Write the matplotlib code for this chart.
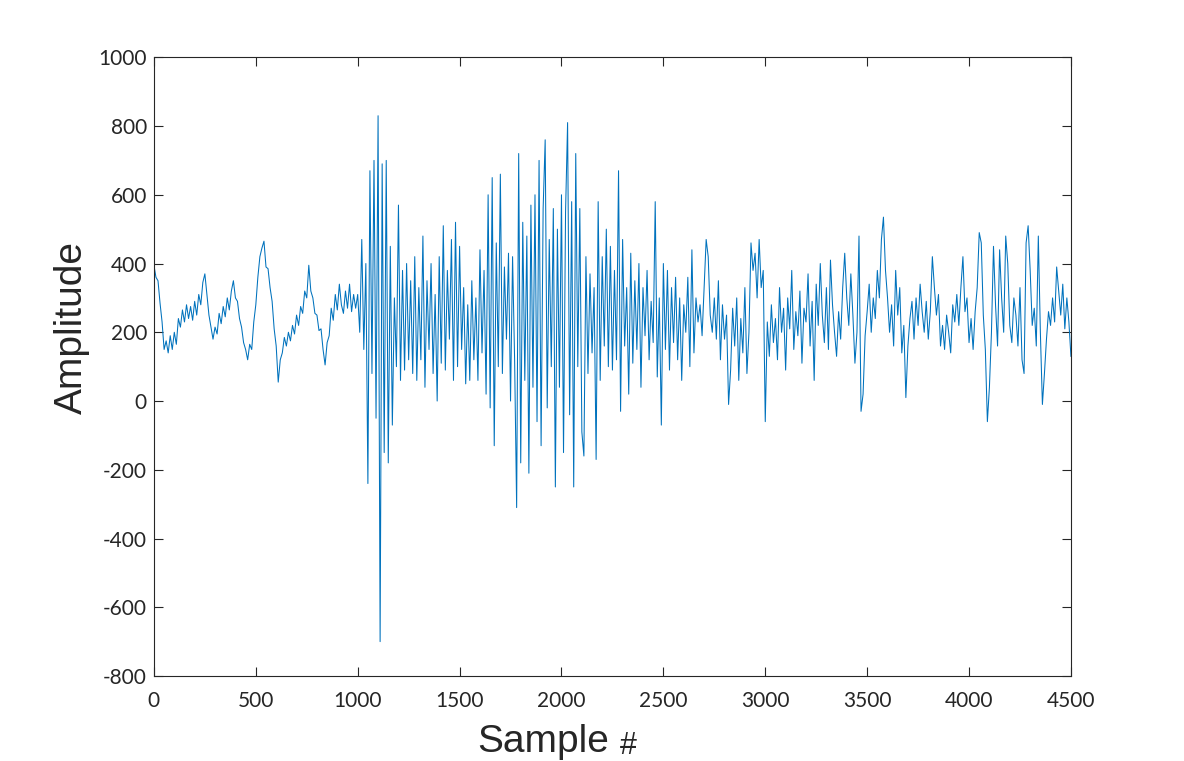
import numpy as np
import matplotlib
matplotlib.use("Agg")
import matplotlib.pyplot as plt

# samples are every 10 points
step = 10

block_0 = [395, 360, 350, 285, 230, 150, 175, 140, 190, 150,
           200, 165, 240, 215, 265, 230, 280, 240, 275, 235,
           290, 250, 310, 280, 345, 370, 310, 250, 215, 180,
           215, 195, 255, 225, 275, 245, 300, 265, 320, 350,
           300, 290, 240, 215, 170, 150, 120, 165, 150, 230]
block_500 = [280, 360, 420, 445, 465, 390, 385, 330, 290, 210,
             160, 55, 120, 140, 185, 160, 200, 175, 220, 195,
             250, 220, 275, 255, 320, 300, 395, 320, 300, 255,
             250, 205, 210, 150, 105, 170, 190, 270, 235, 310,
             265, 340, 280, 255, 320, 270, 340, 260, 310, 270]
block_1000 = [310, 200, 470, 150, 400, -240, 670, 80, 700, -50,
              830, -700, 690, -150, 700, -180, 450, -70, 300, 100,
              570, 60, 380, 90, 400, 120, 350, 80, 420, 60,
              330, 120, 480, 40, 350, 150, 400, 80, 310, 0,
              420, 110, 510, 90, 380, 180, 470, 60, 520, 100]
block_1500 = [450, 150, 330, 50, 280, 60, 350, 120, 300, 60,
              440, 140, 380, 20, 600, -20, 650, -130, 460, 100,
              660, 80, 390, 180, 430, 0, 420, 120, -310, 720,
              -180, 520, 60, 480, -210, 570, 40, 600, -60, 700,
              -130, 560, 760, -20, 470, 100, 560, -250, 500, 40]
block_2000 = [600, -150, 550, 810, -40, 580, -250, 720, 100, 560,
              -90, -160, 420, 80, 370, 140, 330, -170, 580, 60,
              420, 160, 500, 100, 450, 90, 380, 120, 670, -30,
              470, 160, 330, 20, 430, 110, 350, 150, 400, 40,
              330, 190, 380, 120, 290, 170, 580, 70, 300, -70]
block_2500 = [400, 150, 380, 90, 330, 170, 360, 120, 300, 60,
              280, 200, 360, 100, 440, 140, 300, 230, 280, 190,
              330, 470, 420, 250, 200, 300, 180, 350, 120, 280,
              180, 250, -10, 90, 270, 160, 300, 60, 240, 140,
              330, 80, 200, 460, 380, 430, 300, 470, 330, 380]
block_3000 = [-60, 230, 130, 280, 170, 240, 120, 330, 200, 270,
              90, 300, 210, 380, 150, 260, 190, 320, 110, 270,
              230, 370, 160, 290, 60, 340, 220, 400, 250, 170,
              330, 150, 410, 280, 200, 130, 260, 180, 330, 430,
              300, 220, 370, 250, 110, 200, 480, -30, 20, 190]
block_3500 = [260, 340, 200, 300, 240, 380, 300, 470, 535, 380,
              300, 200, 280, 160, 380, 250, 330, 140, 220, 10,
              160, 240, 290, 180, 300, 220, 340, 260, 200, 290,
              180, 260, 420, 330, 250, 310, 160, 220, 150, 250,
              200, 140, 280, 230, 310, 220, 330, 420, 260, 300]
block_4000 = [170, 240, 150, 260, 330, 490, 460, 250, 150, -60,
              40, 200, 450, 280, 160, 440, 300, 200, 480, 400,
              220, 170, 300, 250, 160, 330, 120, 80, 460, 510,
              380, 220, 270, 160, 480, 200, -10, 80, 180, 260,
              220, 300, 230, 390, 320, 250, 340, 210, 300, 230, 130]

amplitude = np.array(block_0 + block_500 + block_1000 + block_1500 + block_2000
                     + block_2500 + block_3000 + block_3500 + block_4000)
sample = np.arange(len(amplitude)) * step

x_ticks = [0, 500, 1000, 1500, 2000, 2500, 3000, 3500, 4000, 4500]
y_ticks = [-800, -600, -400, -200, 0, 200, 400, 600, 800, 1000]

axis_color = (0.15, 0.15, 0.15)

fig = plt.figure(figsize=(11.84, 7.61), dpi=100)
ax = fig.add_axes([0.13, 0.1117, 0.7745, 0.8130])
ax.plot(sample, amplitude, color='#0072BD', linewidth=0.75)

ax.set_xlim(0, 4500)
ax.set_ylim(-800, 1000)
ax.set_xticks(x_ticks)
ax.set_yticks(y_ticks)
ax.set_xticklabels([str(t) for t in x_ticks], family='Lato', fontsize=15)
ax.set_yticklabels([str(t) for t in y_ticks], family='Lato', fontsize=15)
ax.tick_params(axis='both', direction='in', length=6.5, width=0.8,
               top=True, right=True, colors=axis_color)
ax.tick_params(axis='x', pad=11)
ax.tick_params(axis='y', pad=5)
for s in ax.spines.values():
    s.set_color(axis_color)
    s.set_linewidth(0.8)

# x label: "Sample" with a smaller "#" after it, as in the reference
ax.set_xlabel('Sample', family='Liberation Sans', fontsize=28, color=axis_color)
ax.xaxis.set_label_coords(0.4248, -0.078)
ax.text(0.5175, -0.126, '#', transform=ax.transAxes, family='Liberation Sans',
        fontsize=22, color=axis_color, ha='center', va='baseline')
ax.set_ylabel('Amplitude', family='Liberation Sans', fontsize=28, color=axis_color)
ax.yaxis.set_label_coords(-0.070, 0.5625)

fig.savefig('out.png', dpi=100)
